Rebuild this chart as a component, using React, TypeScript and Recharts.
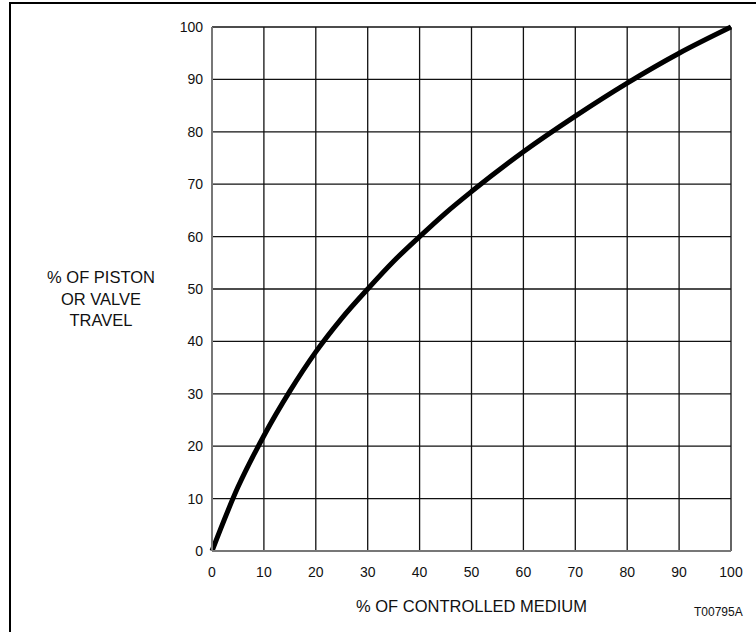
import { LineChart, Line, XAxis, YAxis, CartesianGrid } from "recharts";

// % of controlled medium vs % of piston / valve travel
const medium = [0, 5, 10, 15, 20, 25, 30, 35, 40, 45, 50, 60, 70, 80, 90, 100];
const travel = [0, 12.2, 22, 30.5, 38, 44.4, 50, 55.3, 60, 64.5, 68.6, 76.2, 83, 89.3, 95, 100];
const xTicks = [0, 10, 20, 30, 40, 50, 60, 70, 80, 90, 100];
const yTicks = [0, 10, 20, 30, 40, 50, 60, 70, 80, 90, 100];

const font = "'Liberation Sans', Arial, Helvetica, sans-serif";

export default function App() {
  const data = medium.map((m, i) => ({ x: m, y: travel[i] }));
  const tick = { fill: "#111", fontSize: 14, fontFamily: font };

  return (
    <div
      style={{
        position: "absolute",
        left: 0,
        top: 0,
        width: 756,
        height: 632,
        background: "#fff",
        fontFamily: font,
        color: "#111",
      }}
    >
      <div
        style={{
          position: "absolute",
          left: 9,
          top: 2,
          width: 747,
          height: 630,
          borderLeft: "2px solid #000",
          borderTop: "2px solid #000",
        }}
      />
      <LineChart
        width={756}
        height={632}
        data={data}
        margin={{ top: 27, right: 25, bottom: 51, left: 152 }}
      >
        <CartesianGrid stroke="#111" strokeWidth={1.3} horizontalValues={yTicks} verticalValues={xTicks} />
        <XAxis
          dataKey="x"
          type="number"
          domain={[0, 100]}
          ticks={xTicks}
          height={30}
          tickLine={false}
          tickMargin={10}
          axisLine={{ stroke: "#777", strokeWidth: 2 }}
          tick={tick}
          interval={0}
        />
        <YAxis
          type="number"
          domain={[0, 100]}
          ticks={yTicks}
          width={60}
          tickLine={false}
          tickMargin={3}
          axisLine={{ stroke: "#777", strokeWidth: 2 }}
          tick={tick}
          interval={0}
        />
        <Line
          dataKey="y"
          type="monotone"
          stroke="#000"
          strokeWidth={5}
          dot={false}
          isAnimationActive={false}
        />
      </LineChart>
      <div
        style={{
          position: "absolute",
          left: 20,
          top: 267,
          width: 162,
          textAlign: "center",
          fontSize: 16.5,
          lineHeight: "21.7px",
        }}
      >
        % OF PISTON
        <br />
        OR VALVE
        <br />
        TRAVEL
      </div>
      <div
        style={{
          position: "absolute",
          left: 212,
          width: 519,
          top: 597,
          textAlign: "center",
          fontSize: 16.5,
          lineHeight: "18px",
        }}
      >
        % OF CONTROLLED MEDIUM
      </div>
      <div
        style={{
          position: "absolute",
          left: 694,
          top: 606,
          fontSize: 12,
          lineHeight: "13px",
        }}
      >
        T00795A
      </div>
    </div>
  );
}
